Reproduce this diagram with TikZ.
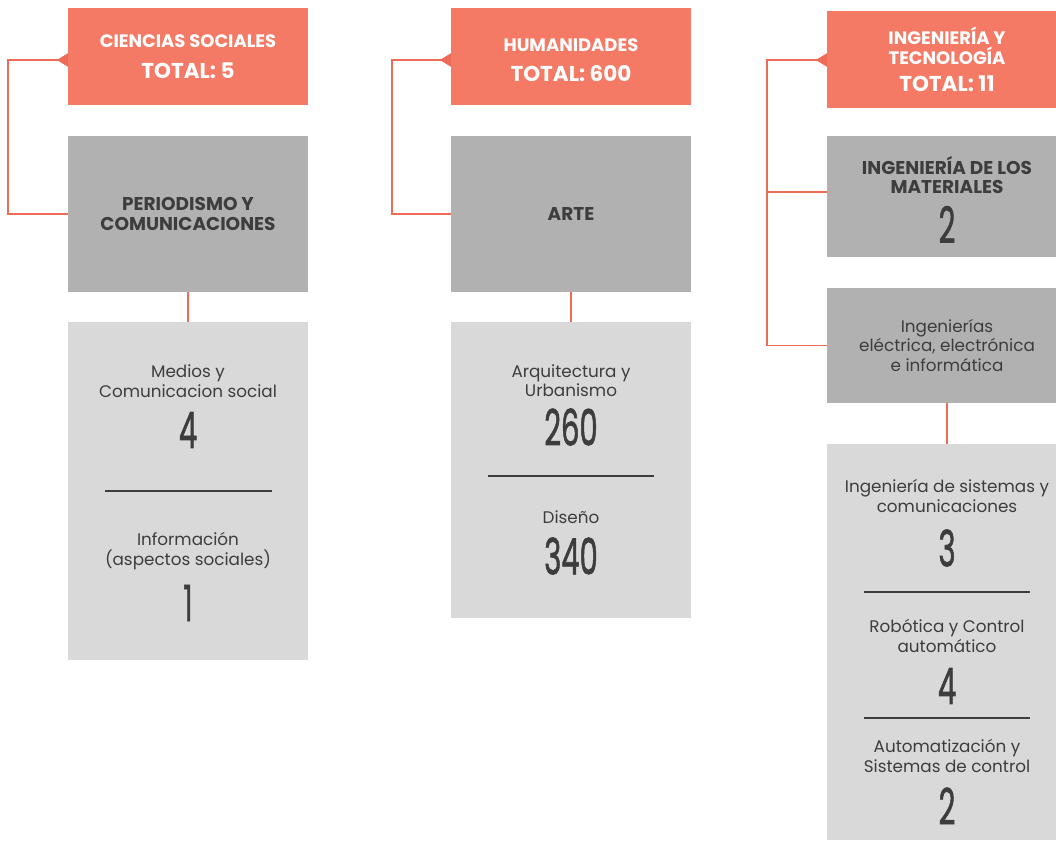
\documentclass[tikz,border=0pt]{standalone}
\usepackage{fontspec}
\setmainfont{Poppins}
\newfontfamily\numfont[FakeBold=1.6]{Poppins}
\usepackage{graphicx}
\usetikzlibrary{arrows.meta}
\definecolor{salmon}{HTML}{F47A65}
\definecolor{boxgray}{HTML}{B1B1B1}
\definecolor{boxlight}{HTML}{D9D9D9}
\definecolor{ink}{HTML}{3D3D3D}
\definecolor{linkred}{HTML}{EE6B58}
\newcommand{\bignum}[1]{\scalebox{0.58}[1]{#1}}

\begin{document}
\begin{tikzpicture}[x=1pt,y=-1pt,
  headbox/.style={fill=salmon,minimum width=240pt,minimum height=97pt,inner sep=0pt},
  fieldbox/.style={fill=boxgray,minimum width=240pt,inner sep=0pt,text=ink,align=center},
  subbox/.style={fill=boxlight,minimum width=240pt,inner sep=0pt},
  htitle/.style={text=white,font=\fontsize{18}{20.5}\selectfont\bfseries,align=center,inner sep=0pt},
  htotal/.style={text=white,font=\fontsize{21.5}{21.5}\selectfont\bfseries,inner sep=0pt},
  bold/.style={font=\fontsize{18.5}{19.5}\selectfont\bfseries},
  item/.style={text=ink,font=\fontsize{16.8}{19.5}\selectfont,align=center,inner sep=0pt},
  num/.style={text=ink,font=\numfont\fontsize{50}{50}\selectfont,inner sep=0pt},
  link/.style={draw=linkred,line width=1.5pt},
  sep/.style={draw=ink,line width=1.4pt}
]
  \useasboundingbox (0,0) rectangle (1056,840);

  % Ciencias sociales
  \node[headbox] (cs) at (188,56.5) {};
  \node[htitle] (cs-name) at (188,41.5) {CIENCIAS SOCIALES};
  \node[htotal] (cs-total) at (188,70.5) {TOTAL: 5};
  \node[fieldbox,bold,minimum height=156pt] (per) at (188,214) {PERIODISMO Y\\COMUNICACIONES};
  \node[subbox,minimum height=338pt] (per-sub) at (188,491) {};
  \node[item] (medios) at (188,381) {Medios y\\Comunicacion social};
  \node[num] (medios-n) at (188,430) {\bignum{4}};
  \draw[sep] (105,491) -- (272,491);
  \node[item] (info) at (188,551) {Información\\(aspectos sociales)};
  \node[num] (info-n) at (188,603) {\bignum{1}};
  \coordinate (cs-tip) at ([yshift=-3.5pt]cs.west);
  \draw[link,-{Triangle[reversed,length=11pt,width=13pt]}] (per.west) -- ++(-60,0) |- (cs-tip);
  \draw[link] (per.south) -- (per-sub.north);

  % Humanidades
  \node[headbox] (hum) at (571,56.5) {};
  \node[htitle] (hum-name) at (571,45.5) {HUMANIDADES};
  \node[htotal] (hum-total) at (571,73.5) {TOTAL: 600};
  \node[fieldbox,bold,minimum height=156pt] (arte) at (571,214) {ARTE};
  \node[subbox,minimum height=296pt] (arte-sub) at (571,470) {};
  \node[item] (arq) at (571,380.5) {Arquitectura y\\Urbanismo};
  \node[num] (arq-n) at (571,427) {\bignum{260}};
  \draw[sep] (488,476) -- (654,476);
  \node[item] (dis) at (571,517) {Diseño};
  \node[num] (dis-n) at (571,556) {\bignum{340}};
  \coordinate (hum-tip) at ([yshift=-3.5pt]hum.west);
  \draw[link,-{Triangle[reversed,length=11pt,width=13pt]}] (arte.west) -- ++(-59,0) |- (hum-tip);
  \draw[link] (arte.south) -- (arte-sub.north);

  % Ingenieria y tecnologia
  \node[headbox] (ing) at (947,59.5) {};
  \node[htitle] (ing-name) at (947,46) {INGENIERÍA Y\\TECNOLOGÍA};
  \node[htotal] (ing-total) at (947,84) {TOTAL: 11};
  \node[fieldbox,minimum height=121pt] (mat) at (947,196.5) {};
  \node[text=ink,bold,align=center,inner sep=0pt] (mat-name) at (947,175) {INGENIERÍA DE LOS\\MATERIALES};
  \node[num] (mat-n) at (947,224.5) {\bignum{2}};
  \node[fieldbox,minimum height=115pt,font=\fontsize{16.8}{19.5}\selectfont] (elec) at (947,345.5) {Ingenierías\\eléctrica, electrónica\\e informática};
  \node[subbox,minimum height=396pt] (elec-sub) at (947,642) {};
  \node[item] (sis) at (947,496) {Ingeniería de sistemas y\\comunicaciones};
  \node[num] (sis-n) at (947,548) {\bignum{3}};
  \draw[sep] (864,592) -- (1030,592);
  \node[item] (rob) at (947,636) {Robótica y Control\\automático};
  \node[num] (rob-n) at (947,686) {\bignum{4}};
  \draw[sep] (864,718) -- (1030,718);
  \node[item] (aut) at (947,756) {Automatización y\\Sistemas de control};
  \node[num] (aut-n) at (947,806) {\bignum{2}};
  \coordinate (ing-tip) at ([yshift=-0.5pt]ing.west);
  \draw[link,-{Triangle[reversed,length=11pt,width=13pt]}] (elec.west) -- ++(-60,0) |- (ing-tip);
  \draw[link] ([yshift=4.5pt]mat.west) -- ++(-60,0);
  \draw[link] (elec.south) -- (elec-sub.north);
\end{tikzpicture}
\end{document}
